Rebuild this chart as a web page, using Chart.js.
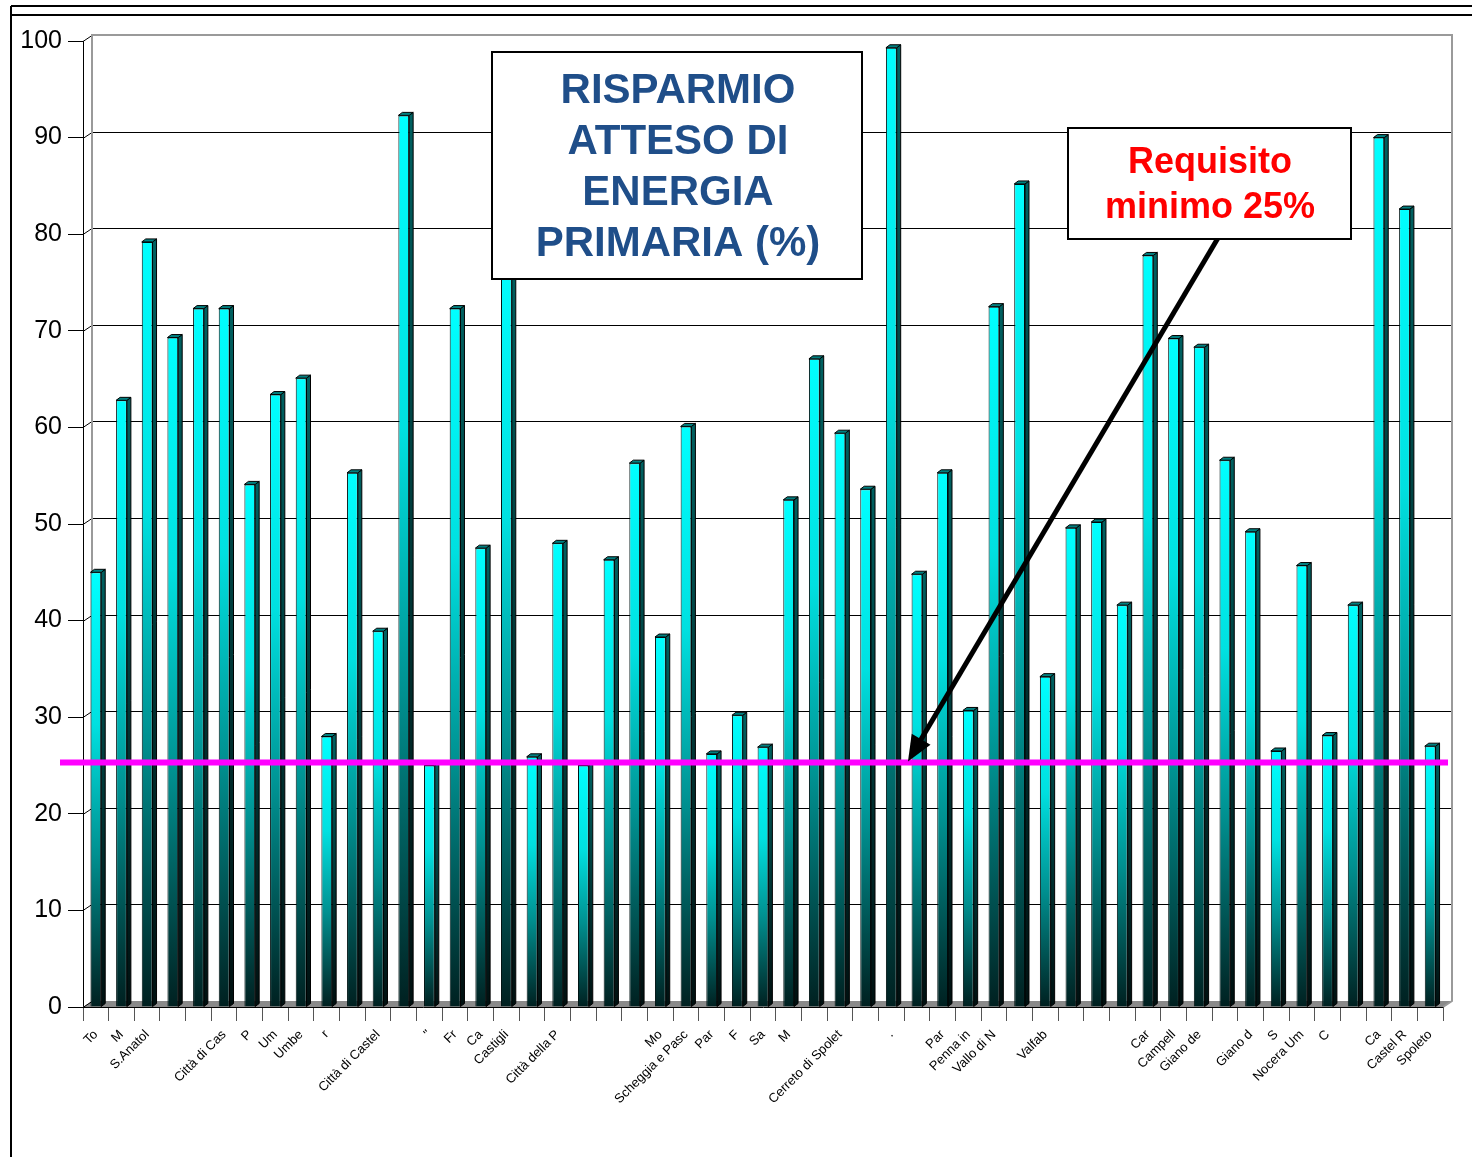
<!DOCTYPE html>
<html>
<head>
<meta charset="utf-8">
<title>Risparmio atteso di energia primaria</title>
<script src="https://cdn.jsdelivr.net/npm/chart.js@4.4.1/dist/chart.umd.min.js"></script>
<style>
  body { margin: 0; background: #fff; }
  canvas { display: block; }
</style>
</head>
<body>
<canvas id="chart" width="1472" height="1157"></canvas>
<script>
// comuni (labels come appaiono, troncate, nel grafico originale)
const comuni = [
    'To', 'M', 'S.Anatol', '', '', 'Città di Cas', 'P', 'Um', 'Umbe', 'r',
    '', 'Città di Castel', '', '"', 'Fr', 'Ca', 'Castigli', '', 'Città della P', '',
    '', '', 'Mo', 'Scheggia e Pasc', 'Par', 'F', 'Sa', 'M', '', 'Cerreto di Spolet',
    '', '.', '', 'Par', 'Penna in', 'Vallo di N', '', 'Valfab', '', '',
    '', 'Car', 'Campell', 'Giano de', '', 'Giano d', 'S', 'Nocera Um', 'C', '',
    'Ca', 'Castel R', 'Spoleto'
];

// risparmio atteso di energia primaria (%)
const risparmio = [
    45.0, 62.8, 79.2, 69.3, 72.3, 72.3, 54.1, 63.4, 65.1, 28.0,
    55.3, 38.9, 92.3, 25.0, 72.3, 47.5, 78.0, 25.9, 48.0, 25.0,
    46.3, 56.3, 38.3, 60.1, 26.2, 30.2, 26.9, 52.5, 67.1, 59.4,
    53.6, 99.3, 44.8, 55.3, 30.7, 72.5, 85.2, 34.2, 49.6, 50.2,
    41.6, 77.8, 69.2, 68.3, 56.6, 49.2, 26.5, 45.7, 28.1, 41.6,
    90.0, 82.6, 27.0
];

const requisitoMinimo = 25;
const yTicks = [0, 10, 20, 30, 40, 50, 60, 70, 80, 90, 100];

const FONT = '"Liberation Sans", Arial, sans-serif';
const DEPTH_X = 9, DEPTH_Y = 6;   // back wall offset
const SIDE_X = 4, SIDE_Y = 3;     // bar side / cap offset

function barFill(c) {
    const chart = c.chart;
    const area = chart.chartArea;
    if (!area) return '#00cccc';
    const top = chart.scales.y.getPixelForValue(c.raw);
    const g = chart.ctx.createLinearGradient(0, top, 0, area.bottom);
    g.addColorStop(0, '#00ffff');
    g.addColorStop(0.35, '#00e0e0');
    g.addColorStop(0.65, '#009090');
    g.addColorStop(1, '#002020');
    return g;
}

// frame, back wall, floor, 3d sides, line and annotations
const decorations = {
    id: 'decorations',
    beforeDraw(chart) {
        const ctx = chart.ctx;
        ctx.save();
        ctx.fillStyle = '#fff';
        ctx.fillRect(0, 0, chart.width, chart.height);
        ctx.strokeStyle = '#000';
        ctx.lineWidth = 2;
        ctx.beginPath();
        ctx.moveTo(11, 6); ctx.lineTo(chart.width, 6);
        ctx.moveTo(11, 15); ctx.lineTo(chart.width, 15);
        ctx.moveTo(11, 6); ctx.lineTo(11, chart.height);
        ctx.stroke();
        ctx.restore();
    },
    beforeDatasetsDraw(chart) {
        const ctx = chart.ctx;
        const a = chart.chartArea;
        const y = chart.scales.y;
        ctx.save();
        // floor
        ctx.fillStyle = '#8a8a8a';
        ctx.beginPath();
        ctx.moveTo(a.left, a.bottom);
        ctx.lineTo(a.left + DEPTH_X, a.bottom - DEPTH_Y);
        ctx.lineTo(a.right + DEPTH_X, a.bottom - DEPTH_Y);
        ctx.lineTo(a.right, a.bottom);
        ctx.closePath();
        ctx.fill();
        // grid on back wall
        ctx.strokeStyle = '#000';
        ctx.lineWidth = 1;
        yTicks.forEach(v => {
            const py = Math.round(y.getPixelForValue(v)) + 0.5;
            ctx.beginPath();
            ctx.moveTo(a.left, py);
            ctx.lineTo(a.left + DEPTH_X, py - DEPTH_Y);
            if (v > 0 && v < 100) ctx.lineTo(a.right + DEPTH_X, py - DEPTH_Y);
            ctx.stroke();
        });
        // wall edges
        ctx.strokeStyle = '#9a9a9a';
        ctx.lineWidth = 2;
        const t = y.getPixelForValue(100) - DEPTH_Y;
        const b = a.bottom - DEPTH_Y;
        ctx.beginPath();
        ctx.moveTo(a.left + DEPTH_X, b);
        ctx.lineTo(a.left + DEPTH_X, t);
        ctx.lineTo(a.right + DEPTH_X, t);
        ctx.lineTo(a.right + DEPTH_X, b);
        ctx.lineTo(a.right, a.bottom);
        ctx.stroke();
        ctx.restore();
    },
    afterDatasetsDraw(chart) {
        const ctx = chart.ctx;
        const a = chart.chartArea;
        const x = chart.scales.x;
        const y = chart.scales.y;
        ctx.save();
        // bar sides and caps
        chart.getDatasetMeta(0).data.forEach(bar => {
            const l = bar.x - bar.width / 2;
            const r = bar.x + bar.width / 2;
            const side = ctx.createLinearGradient(0, bar.y, 0, bar.base);
            side.addColorStop(0, '#006060');
            side.addColorStop(1, '#001010');
            ctx.fillStyle = side;
            ctx.strokeStyle = '#000';
            ctx.lineWidth = 1;
            ctx.beginPath();
            ctx.moveTo(r, bar.y);
            ctx.lineTo(r + SIDE_X, bar.y - SIDE_Y);
            ctx.lineTo(r + SIDE_X, bar.base - SIDE_Y);
            ctx.lineTo(r, bar.base);
            ctx.closePath();
            ctx.fill();
            ctx.stroke();
            ctx.fillStyle = '#008080';
            ctx.beginPath();
            ctx.moveTo(l, bar.y);
            ctx.lineTo(l + SIDE_X, bar.y - SIDE_Y);
            ctx.lineTo(r + SIDE_X, bar.y - SIDE_Y);
            ctx.lineTo(r, bar.y);
            ctx.closePath();
            ctx.fill();
            ctx.stroke();
        });

        // requisito minimo line
        const ly = y.getPixelForValue(requisitoMinimo) - 3;
        ctx.strokeStyle = '#ff00ff';
        ctx.lineWidth = 6;
        ctx.beginPath();
        ctx.moveTo(60, ly);
        ctx.lineTo(a.right + 5, ly);
        ctx.stroke();

        // arrow
        const ex = x.getPixelForValue(32) - 9, ey = ly - 1;
        const sx = 1218, sy = 238;
        const ang = Math.atan2(ey - sy, ex - sx);
        ctx.strokeStyle = '#000';
        ctx.lineWidth = 5;
        ctx.beginPath();
        ctx.moveTo(sx, sy);
        ctx.lineTo(ex - Math.cos(ang) * 20, ey - Math.sin(ang) * 20);
        ctx.stroke();
        ctx.fillStyle = '#000';
        ctx.beginPath();
        ctx.moveTo(ex, ey);
        ctx.lineTo(ex - Math.cos(ang - 0.4) * 28, ey - Math.sin(ang - 0.4) * 28);
        ctx.lineTo(ex - Math.cos(ang + 0.4) * 28, ey - Math.sin(ang + 0.4) * 28);
        ctx.closePath();
        ctx.fill();

        // title box
        ctx.fillStyle = '#fff';
        ctx.fillRect(492, 52, 370, 227);
        ctx.strokeStyle = '#000';
        ctx.lineWidth = 2;
        ctx.strokeRect(492, 52, 370, 227);
        ctx.fillStyle = '#1f4e89';
        ctx.font = 'bold 42px ' + FONT;
        ctx.textAlign = 'center';
        ctx.textBaseline = 'middle';
        ['RISPARMIO', 'ATTESO DI', 'ENERGIA', 'PRIMARIA (%)'].forEach((s, i) => {
            ctx.fillText(s, 678, 91 + i * 51);
        });

        // requisito box
        ctx.fillStyle = '#fff';
        ctx.fillRect(1068, 128, 283, 111);
        ctx.strokeRect(1068, 128, 283, 111);
        ctx.fillStyle = '#ff0000';
        ctx.font = 'bold 36px ' + FONT;
        ctx.fillText('Requisito', 1210, 163);
        ctx.fillText('minimo 25%', 1210, 208);
        ctx.restore();
    }
};

new Chart(document.querySelector('#chart'), {
    type: 'bar',
    data: {
        labels: comuni,
        datasets: [{
            data: risparmio,
            backgroundColor: barFill,
            borderColor: '#001414',
            borderWidth: 1,
            barPercentage: 0.42,
            categoryPercentage: 1
        }]
    },
    options: {
        responsive: false,
        animation: false,
        layout: { padding: { top: 41, right: 29, left: 0, bottom: 0 }, autoPadding: false },
        plugins: { legend: { display: false }, tooltip: { enabled: false } },
        scales: {
            x: {
                grid: { offset: true, drawOnChartArea: false, tickLength: 14, color: '#555' },
                border: { color: '#000' },
                ticks: {
                    autoSkip: false, minRotation: 45, maxRotation: 45, padding: 6,
                    color: '#000', font: { size: 13, family: FONT }
                },
                afterFit: s => { s.height = 150; }
            },
            y: {
                min: 0, max: 100,
                ticks: { stepSize: 10, padding: 6, color: '#000', font: { size: 25, family: FONT } },
                grid: { drawOnChartArea: false, tickLength: 15, color: '#000' },
                border: { color: '#000' },
                afterFit: s => { s.width = 83; }
            }
        }
    },
    plugins: [decorations]
});
</script>
</body>
</html>
